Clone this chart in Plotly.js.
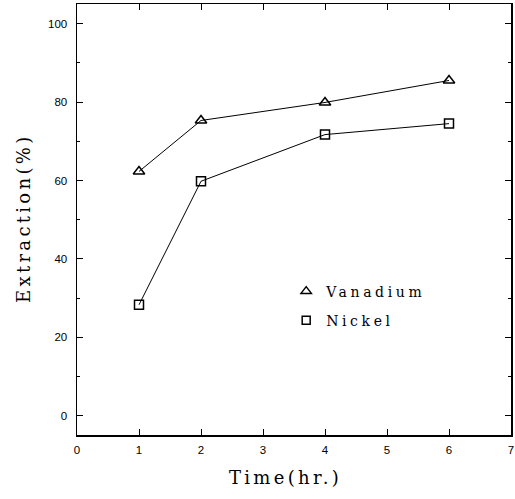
<!DOCTYPE html>
<html>
<head>
<meta charset="utf-8">
<script src="https://cdn.plot.ly/plotly-3.0.1.min.js"></script>
<style>
html,body{margin:0;padding:0;background:#fff;}
#chart{width:515px;height:499px;}
.annotation-text{letter-spacing:3.3px;}
.legendtext{letter-spacing:3.6px;}
</style>
</head>
<body>
<div id="chart"></div>
<script>
const timeHr = [1, 2, 4, 6];
const vanadium = [62.3, 75.3, 79.9, 85.5];
const nickel = [28.3, 59.8, 71.7, 74.5];
const seriesNames = ["Vanadium", "Nickel"];
const xTicks = [0, 1, 2, 3, 4, 5, 6, 7];
const yTicks = [0, 20, 40, 60, 80, 100];
const xTitle = "Time(hr.)";
const yTitle = "Extraction(%)";

const serif = "DejaVu Serif, Liberation Serif, serif";
const lineStyle = {color: "#000", width: 1};
const traces = [
  {x: timeHr, y: vanadium, mode: "lines+markers", name: seriesNames[0], showlegend: false,
   line: lineStyle, marker: {symbol: "triangle-up-open", size: 10, color: "#000", line: {width: 1.5}}},
  {x: timeHr, y: nickel, mode: "lines+markers", name: seriesNames[1], showlegend: false,
   line: lineStyle, marker: {symbol: "square-open", size: 9, color: "#000", line: {width: 1.5}}},
  {x: [null], y: [null], mode: "markers", name: seriesNames[0], legendgroup: "a",
   marker: {symbol: "triangle-up-open", size: 9, color: "#000", line: {width: 1.5}}},
  {x: [null], y: [null], mode: "markers", name: seriesNames[1], legendgroup: "b",
   marker: {symbol: "square-open", size: 8, color: "#000", line: {width: 1.5}}}
];

const axisCommon = {
  showgrid: false, zeroline: false, showline: true, linecolor: "#000", linewidth: 1.5,
  mirror: "ticks", ticks: "inside", tickcolor: "#000", ticklen: 6, tickwidth: 1,
  tickfont: {family: "Liberation Sans, Arial, sans-serif", size: 11.5, color: "#000"}
};

const layout = {
  width: 515, height: 499,
  margin: {l: 77, r: 4, t: 4, b: 64},
  paper_bgcolor: "#fff", plot_bgcolor: "#fff",
  showlegend: true,
  legend: {x: 0.482, y: 0.37, xanchor: "left", yanchor: "top", bgcolor: "rgba(0,0,0,0)",
           traceorder: "grouped", tracegroupgap: 8,
           font: {family: serif, size: 14, color: "#000"}},
  xaxis: Object.assign({}, axisCommon, {
    range: [0, 7], tickvals: xTicks, ticktext: xTicks.map(String), ticklabelstandoff: 4
  }),
  yaxis: Object.assign({}, axisCommon, {
    range: [-4.9, 105], tickvals: yTicks, ticktext: yTicks.map(String), ticklabelstandoff: 6,
    minor: {dtick: 10, tick0: 10, ticks: "inside", ticklen: 3, tickcolor: "#000"}
  }),
  annotations: [
    {text: xTitle, xref: "paper", yref: "paper", x: 0.48, y: -0.099, xanchor: "center", yanchor: "middle",
     showarrow: false, font: {family: serif, size: 18, color: "#000"}},
    {text: yTitle, xref: "paper", yref: "paper", x: -0.125, y: 0.503, xanchor: "center", yanchor: "middle",
     textangle: -90, showarrow: false, font: {family: serif, size: 18, color: "#000"}}
  ]
};

Plotly.newPlot("chart", traces, layout, {displayModeBar: false, staticPlot: true});
</script>
</body>
</html>
